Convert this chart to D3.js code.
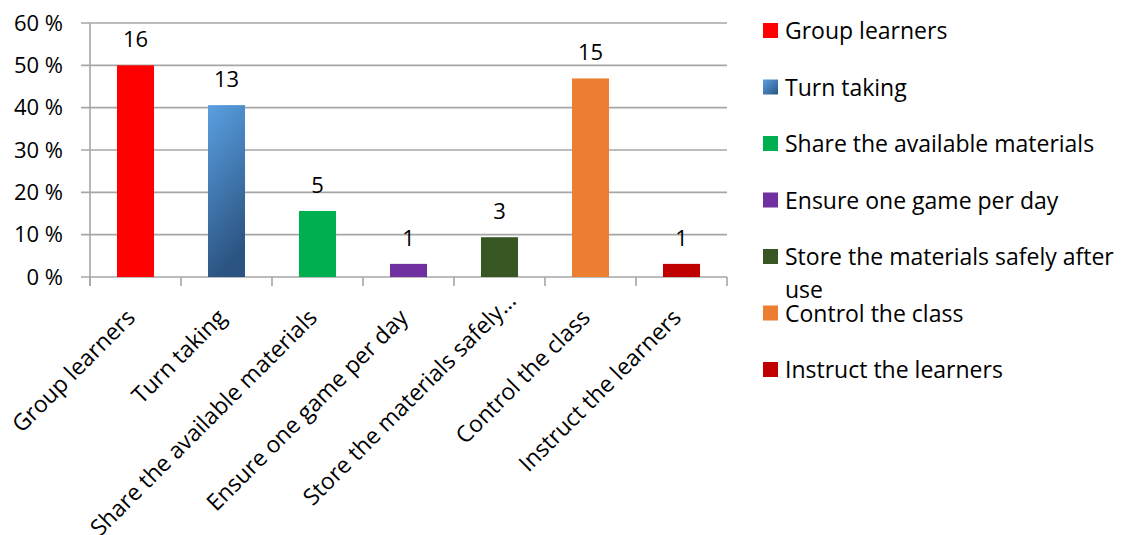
<!DOCTYPE html>
<html><head><meta charset="utf-8">
<script src="https://cdn.jsdelivr.net/npm/d3@7"></script>
<style>body{margin:0;background:#fff} svg{display:block}</style>
</head><body><svg id="c" width="1127" height="535"></svg>
<script>
const categories = ["Group learners","Turn taking","Share the available materials","Ensure one game per day","Store the materials safely after use","Control the class","Instruct the learners"];
const counts = [16, 13, 5, 1, 3, 15, 1];
const percents = [50, 40.6, 15.6, 3.1, 9.4, 46.9, 3.1];
const colors = ["#ff0000", "url(#gradTurn)", "#00b050", "#7030a0", "#375623", "#ed7d31", "#c00000"];
const legendColors = ["#ff0000", "url(#gradTurnLeg)", "#00b050", "#7030a0", "#375623", "#ed7d31", "#c00000"];
const yTicks = [0, 10, 20, 30, 40, 50, 60];
const yTickLabels = ["0 %", "10 %", "20 %", "30 %", "40 %", "50 %", "60 %"];

(function () {
const FONT = "'Open Sans', 'Liberation Sans', sans-serif";
const svg = d3.select("#c");
const defs = svg.append("defs");
const g1 = defs.append("linearGradient").attr("id","gradTurn").attr("x1","0").attr("y1","0").attr("x2","0.25").attr("y2","1");
g1.append("stop").attr("offset","0").attr("stop-color","#5aa0e2");
g1.append("stop").attr("offset","1").attr("stop-color","#2c5482");
const g2 = defs.append("linearGradient").attr("id","gradTurnLeg").attr("x1","0").attr("y1","0").attr("x2","1").attr("y2","1");
g2.append("stop").attr("offset","0").attr("stop-color","#5aa0e2");
g2.append("stop").attr("offset","1").attr("stop-color","#2c5482");

const pLeft = 90, pRight = 727, pTop = 23, pBottom = 277;
const x = d3.scaleBand().domain(categories).range([pLeft, pRight]).paddingInner(0.593).paddingOuter(0.2965);
const y = d3.scaleLinear().domain([0, 60]).range([pBottom, pTop]);

// gridlines
svg.append("g").selectAll("line").data(yTicks).join("line")
  .attr("x1", pLeft - 9).attr("x2", pRight)
  .attr("y1", d => y(d)).attr("y2", d => y(d))
  .attr("stroke", "#a6a6a6").attr("stroke-width", 1.6);

// y axis line
svg.append("line").attr("x1", pLeft).attr("x2", pLeft).attr("y1", y(60)).attr("y2", y(0) + 9)
  .attr("stroke", "#a6a6a6").attr("stroke-width", 1.6);

// x tick marks at band boundaries
const bounds = d3.range(categories.length + 1).map(i => x.range()[0] + i * x.step());
svg.append("g").selectAll("line").data(bounds).join("line")
  .attr("x1", d => d).attr("x2", d => d).attr("y1", y(0)).attr("y2", y(0) + 9)
  .attr("stroke", "#a6a6a6").attr("stroke-width", 1.6);

// y labels
const yAxis = d3.axisLeft(y).tickValues(yTicks).tickFormat((d, i) => yTickLabels[i]).tickSize(0).tickPadding(27);
const ya = svg.append("g").attr("transform", `translate(${pLeft},0)`).call(yAxis);
ya.select(".domain").remove();
ya.selectAll("text").attr("font-family", FONT).attr("font-size", 22).attr("fill", "#000");

// bars
svg.append("g").selectAll("rect").data(categories).join("rect")
  .attr("x", d => x(d)).attr("width", x.bandwidth())
  .attr("y", (d, i) => y(percents[i])).attr("height", (d, i) => y(0) - y(percents[i]))
  .attr("fill", (d, i) => colors[i]);

// data labels
svg.append("g").selectAll("text").data(categories).join("text")
  .attr("x", d => x(d) + x.bandwidth() / 2)
  .attr("y", (d, i) => y(percents[i]) - 18)
  .attr("text-anchor", "middle").attr("font-family", FONT).attr("font-size", 22).attr("fill", "#000")
  .text((d, i) => counts[i]);

// x labels, rotated with truncation
const maxLabel = 325;
const xl = svg.append("g");
categories.forEach((c, i) => {
  const cx = x(c) + x.bandwidth() / 2 + 1;
  const t = xl.append("text").attr("font-family", FONT).attr("font-size", 23).attr("fill", "#000")
    .attr("text-anchor", "end").attr("transform", `translate(${cx},${y(0) + 42}) rotate(-45)`).text(c);
  if (t.node().getComputedTextLength() > maxLabel) {
    const words = c.split(" ");
    while (words.length > 1) {
      words.pop();
      t.text(words.join(" ") + "…");
      if (t.node().getComputedTextLength() <= maxLabel) break;
    }
    t.attr("dx", 24);
  }
});

// legend
const lg = svg.append("g");
const lx = 763, ltx = 785, ly0 = 39, lstep = 56.5, lwrap = 340;
categories.forEach((c, i) => {
  const by = ly0 + i * lstep;
  lg.append("rect").attr("x", lx).attr("y", by - 16).attr("width", 15).attr("height", 15).attr("fill", legendColors[i]);
  const t = lg.append("text").attr("x", ltx).attr("y", by).attr("font-family", FONT).attr("font-size", 23).attr("fill", "#000");
  const words = c.split(" ");
  let line = [], ts = t.append("tspan").attr("x", ltx).attr("y", by), lineNo = 0;
  words.forEach(w => {
    line.push(w);
    ts.text(line.join(" "));
    if (ts.node().getComputedTextLength() > lwrap && line.length > 1) {
      line.pop(); ts.text(line.join(" "));
      line = [w]; lineNo++;
      ts = t.append("tspan").attr("x", ltx).attr("y", by + lineNo * 33).text(w);
    }
  });
});
})();
</script></body></html>
